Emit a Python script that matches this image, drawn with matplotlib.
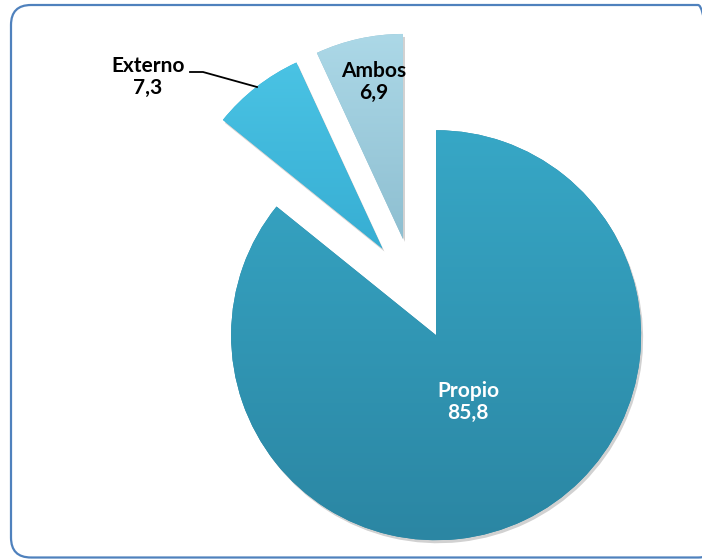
import matplotlib.pyplot as plt
import numpy as np
from matplotlib.patches import FancyBboxPatch, Wedge
from matplotlib.colors import LinearSegmentedColormap
from matplotlib.transforms import IdentityTransform

# Origen de los recursos (%)
categorias = ['Propio', 'Externo', 'Ambos']
valores = [85.8, 7.3, 6.9]

plt.rcParams['font.family'] = ['Lato', 'DejaVu Sans']

W, H = 702, 559
fig = plt.figure(figsize=(W / 100, H / 100), dpi=100)
ax = fig.add_axes([0, 0, 1, 1])

# colores (abajo, arriba) para el degradado de cada sector
colores = [('#2B86A3', '#37A7C6'),
           ('#37AED3', '#4AC3E4'),
           ('#8EBFD1', '#ACD8E7')]

radio = 205
# el desplazamiento de pie() va en unidades de datos
separacion = [0.25 * radio] * 3

wedges, _ = ax.pie(valores, explode=separacion, startangle=90, counterclock=False,
                   center=(414, 270), radius=radio,
                   colors=[c[0] for c in colores],
                   wedgeprops=dict(linewidth=0, zorder=2))

# sombra suave y degradado vertical en cada sector
for w, (c_abajo, c_arriba) in zip(wedges, colores):
    sombra = Wedge((w.center[0] + 2, w.center[1] - 3), w.r, w.theta1, w.theta2,
                   fc='black', alpha=0.18, lw=0, zorder=1)
    ax.add_patch(sombra)
    ext = w.get_path().get_extents()
    grad = np.linspace(0, 1, 256).reshape(-1, 1)
    cmap = LinearSegmentedColormap.from_list('g', [c_abajo, c_arriba])
    img = ax.imshow(grad, cmap=cmap, origin='lower', aspect='auto',
                    extent=(ext.x0, ext.x1, ext.y0, ext.y1), zorder=3,
                    interpolation='bicubic')
    img.set_clip_path(w)

ax.set_xlim(0, W)
ax.set_ylim(0, H)
ax.axis('off')

# marco redondeado (en píxeles de la figura)
marco = FancyBboxPatch((11, 1.5), 707, 552.5, boxstyle='round,pad=0,rounding_size=20',
                       fill=False, ec='#4F81BD', lw=1.6, transform=IdentityTransform())
fig.patches.append(marco)

# etiquetas
ax.text(468, H - 402, f'{categorias[0]}\n{valores[0]:.1f}'.replace('.', ','),
        ha='center', va='center', color='white', fontsize=15, fontweight='bold',
        linespacing=1.15, zorder=6)
ax.text(148, H - 77, f'{categorias[1]}\n{valores[1]:.1f}'.replace('.', ','),
        ha='center', va='center', color='black', fontsize=15, fontweight='bold',
        linespacing=1.15, zorder=6)
ax.text(374, H - 82, f'{categorias[2]}\n{valores[2]:.1f}'.replace('.', ','),
        ha='center', va='center', color='black', fontsize=15, fontweight='bold',
        linespacing=1.15, zorder=6)

# línea guía de "Externo"
ax.plot([190, 203, 257], [H - 72, H - 72, H - 87], color='black', lw=1.3, zorder=6)

fig.savefig('out.png', dpi=100, facecolor='white')
